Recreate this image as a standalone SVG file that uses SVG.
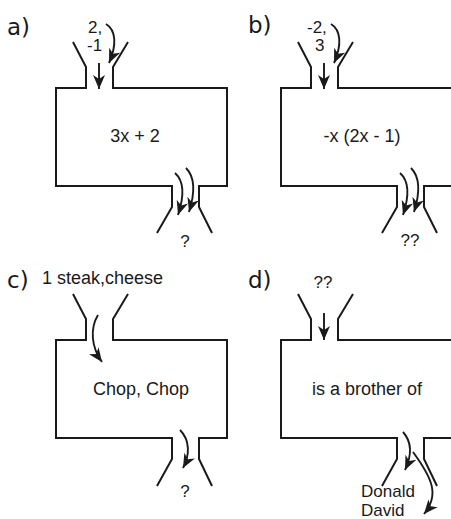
<svg xmlns="http://www.w3.org/2000/svg" width="451" height="519" viewBox="0 0 451 519">
  <style>
    .box { fill: none; stroke: #1a1a1a; stroke-width: 2; stroke-linejoin: miter; }
    .arr { fill: none; stroke: #1a1a1a; stroke-width: 1.9; }
    .t { font-family: "Liberation Sans", Arial, sans-serif; fill: #1a1a1a; }
    .small { font-size: 17px; }
    .mid { font-size: 18px; text-anchor: middle; }
    .lbl { font-family: "DejaVu Sans", sans-serif; font-size: 23px; fill: #1a1a1a; }
  </style>
  <defs>
    <marker id="ah" markerUnits="userSpaceOnUse" markerWidth="16" markerHeight="14" refX="14" refY="7" orient="auto" viewBox="0 0 16 14">
      <path d="M14,7 L0,1 L4,7 L0,13 Z" fill="#1a1a1a"/>
    </marker>
  </defs>
  <rect width="451" height="519" fill="#ffffff"/>

  <!-- panel labels -->
  <g id="labels">
    <text class="lbl" x="7" y="35">a)</text>
    <text class="lbl" x="248" y="33">b)</text>
    <text class="lbl" x="7" y="288">c)</text>
    <text class="lbl" x="248" y="288">d)</text>
  </g>

  <!-- machine a -->
  <g id="machine-a">
    <path class="box" d="M73,42 L86,67 L86,88 L56,88 L56,186 L172,186 L172,207 L157,233"/>
    <path class="box" d="M212,233 L199,207 L199,186 L227,186 L227,88 L113,88 L113,67 L128,42"/>
    <text class="t mid" x="135" y="142">3x + 2</text>
  </g>
  <g id="input-a">
    <text class="t small" x="88" y="33">2,</text>
    <text class="t small" x="87" y="51">-1</text>
  </g>
  <g id="output-a">
    <text class="t small" x="185" y="247" text-anchor="middle">?</text>
  </g>

  <!-- machine b -->
  <g id="machine-b">
    <path class="box" d="M298,42 L311,67 L311,88 L281,88 L281,186 L397,186 L397,207 L382,233"/>
    <path class="box" d="M437,233 L424,207 L424,186 L453,186 M453,88 L338,88 L338,67 L353,42"/>
    <text class="t mid" x="362" y="142">-x (2x - 1)</text>
  </g>
  <g id="input-b">
    <text class="t small" x="307" y="33">-2,</text>
    <text class="t small" x="315" y="51">3</text>
  </g>
  <g id="output-b">
    <text class="t small" x="410" y="246" text-anchor="middle">??</text>
  </g>

  <!-- machine c -->
  <g id="machine-c">
    <path class="box" d="M73,294 L86,319 L86,340 L56,340 L56,438 L172,438 L172,459 L157,486"/>
    <path class="box" d="M212,486 L199,459 L199,438 L227,438 L227,340 L113,340 L113,319 L128,294"/>
    <text class="t mid" x="141" y="395">Chop, Chop</text>
  </g>
  <g id="input-c">
    <text class="t" x="42" y="284" style="font-size:18px">1 steak,cheese</text>
  </g>
  <g id="output-c">
    <text class="t small" x="185" y="497" text-anchor="middle">?</text>
  </g>

  <!-- machine d -->
  <g id="machine-d">
    <path class="box" d="M298,294 L311,319 L311,340 L281,340 L281,438 L397,438 L397,459 L382,486"/>
    <path class="box" d="M437,486 L424,459 L424,438 L453,438 M453,340 L338,340 L338,319 L353,294"/>
    <text class="t mid" x="367" y="395">is a brother of</text>
  </g>
  <g id="input-d">
    <text class="t small" x="323" y="288" text-anchor="middle">??</text>
  </g>
  <g id="output-d">
    <text class="t small" x="361" y="497">Donald</text>
    <text class="t small" x="361" y="516">David</text>
  </g>

  <!-- connectors -->
  <g id="connectors">
    <path class="arr" marker-end="url(#ah)" d="M106,24 C116,30 117,45 109,63"/>
    <path class="arr" marker-end="url(#ah)" d="M99,63 L99,89"/>
    <path class="arr" marker-end="url(#ah)" d="M175,173 C184,181 184,197 178,215"/>
    <path class="arr" marker-end="url(#ah)" d="M186,168 C195,177 195,193 189,212"/>

    <path class="arr" marker-end="url(#ah)" d="M331,24 C341,30 342,45 334,63"/>
    <path class="arr" marker-end="url(#ah)" d="M324,63 L324,89"/>
    <path class="arr" marker-end="url(#ah)" d="M400,173 C409,181 409,197 403,215"/>
    <path class="arr" marker-end="url(#ah)" d="M411,168 C420,177 420,193 414,212"/>

    <path class="arr" marker-end="url(#ah)" d="M98,315 C90,328 91,347 102,362"/>
    <path class="arr" marker-end="url(#ah)" d="M180,430 C190,440 190,455 183,468"/>

    <path class="arr" marker-end="url(#ah)" d="M324,313 L324,340"/>
    <path class="arr" marker-end="url(#ah)" d="M403,432 C412,442 412,455 405,470"/>
    <path class="arr" marker-end="url(#ah)" d="M413,452 C432,478 440,495 424,514"/>
  </g>
</svg>
